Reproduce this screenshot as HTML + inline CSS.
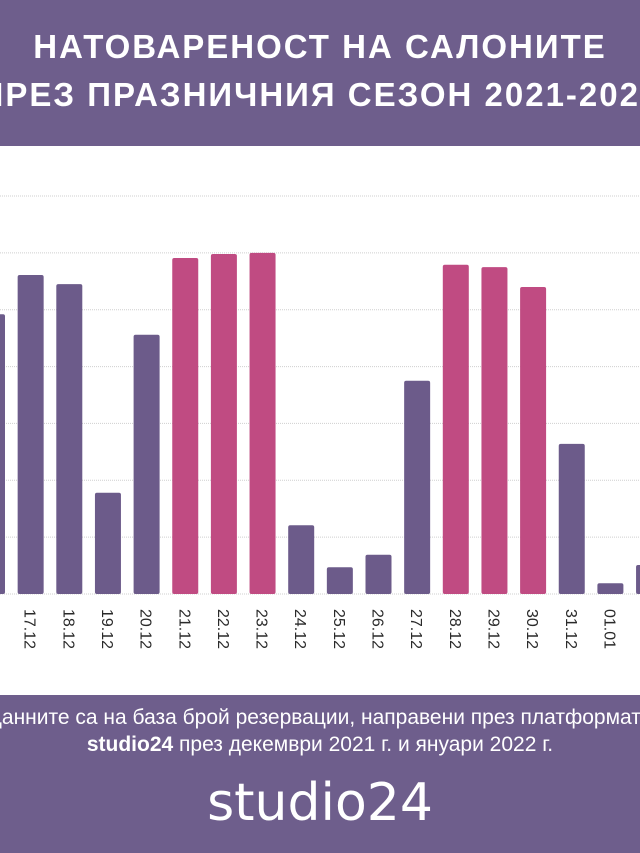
<!DOCTYPE html>
<html><head><meta charset="utf-8">
<style>
html,body{margin:0;padding:0;}
body{width:640px;height:853px;overflow:hidden;position:relative;background:#fff;font-family:"Liberation Sans","DejaVu Sans",sans-serif;}
#hdr{position:absolute;left:0;top:0;width:640px;height:146px;background:#6e5e8c;}
.t{position:absolute;left:-100px;width:840px;text-align:center;color:#fff;font-weight:bold;font-size:33px;letter-spacing:2px;white-space:nowrap;}
#ftr{position:absolute;left:0;top:695px;width:640px;height:158px;background:#6e5e8c;color:#fff;}
.f{position:absolute;left:-100px;width:840px;text-align:center;font-size:21px;white-space:nowrap;}
#logo{position:absolute;left:0;width:640px;text-align:center;top:78px;font-size:52px;font-family:"DejaVu Sans",sans-serif;}
svg{position:absolute;left:0;top:0;}
</style></head><body>
<div id="hdr">
<div class="t" style="top:28px">НАТОВАРЕНОСТ НА САЛОНИТЕ</div>
<div class="t" style="top:76px">ПРЕЗ ПРАЗНИЧНИЯ СЕЗОН 2021-2022</div>
</div>
<svg id="chart" width="640" height="853"></svg>
<div id="ftr">
<div class="f" style="top:11px">Данните са на база брой резервации, направени през платформата</div>
<div class="f" style="top:38px"><b>studio24</b> през декември 2021 г. и януари 2022 г.</div>
<div id="logo">studio24</div>
</div>
<script>
const categories=["16.12","17.12","18.12","19.12","20.12","21.12","22.12","23.12","24.12","25.12","26.12","27.12","28.12","29.12","30.12","31.12","01.01","02.01"];
const values=[49.2,56.1,54.5,17.8,45.6,59.1,59.8,60,12.1,4.7,6.9,37.5,57.9,57.5,54,26.4,1.9,5.1];
const highlight=[0,0,0,0,0,1,1,1,0,0,0,0,1,1,1,0,0,0];
const gridTicks=[0,10,20,30,40,50,60,70];
const svg=document.getElementById('chart');
const NS='http://www.w3.org/2000/svg';
const y0=594,y1=196,vmax=70;
function y(v){return y0-(v/vmax)*(y0-y1);}
function x(i){return -8+i*38.65;}
const bw=26;
gridTicks.forEach(t=>{
 const l=document.createElementNS(NS,'line');
 l.setAttribute('x1',0);l.setAttribute('x2',640);
 l.setAttribute('y1',y(t));l.setAttribute('y2',y(t));
 l.setAttribute('stroke','#cfcfcf');l.setAttribute('stroke-dasharray','1,1');
 
 
 svg.appendChild(l);
});
categories.forEach((c,i)=>{
 const r=document.createElementNS(NS,'rect');
 const cx=x(i);
 r.setAttribute('x',cx-bw/2);r.setAttribute('y',y(values[i]));
 r.setAttribute('width',bw);r.setAttribute('height',y0-y(values[i]));
 r.setAttribute('rx',2);
 r.setAttribute('fill',highlight[i]?'#c04b82':'#6c5b8a');
 
 
 svg.appendChild(r);
 const t=document.createElementNS(NS,'text');
 t.setAttribute('x',0);t.setAttribute('y',0);
 t.setAttribute('transform','translate('+(cx-6)+',609) rotate(90)');
 t.setAttribute('font-size','16');t.setAttribute('fill','#2a2a2a');
 t.setAttribute('font-family','Liberation Sans, sans-serif');
 t.textContent=c;
 
 
 svg.appendChild(t);
});
</script>
</body></html>
